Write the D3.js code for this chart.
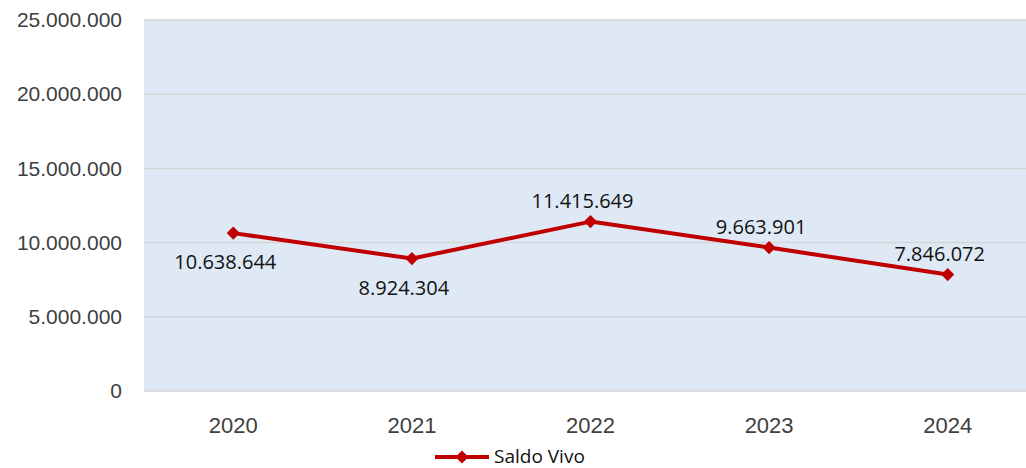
<!DOCTYPE html>
<html>
<head>
<meta charset="utf-8">
<script src="https://cdn.jsdelivr.net/npm/d3@7"></script>
<style>
  body { margin: 0; background: #fff; }
  svg { display: block; font-family: "Open Sans", "Noto Sans", sans-serif; }
</style>
</head>
<body>
<div id="chart"></div>
<script>
const years = ["2020", "2021", "2022", "2023", "2024"];
const saldoVivo = [10638644, 8924304, 11415649, 9663901, 7846072];
const yTicks = [0, 5000000, 10000000, 15000000, 20000000, 25000000];
// label above (1) or below (-1) the point
const labelSide = [-1, -1, 1, 1, 1];

const width = 1026, height = 468;
const plot = { left: 144, right: 1037, top: 20, bottom: 391 };

const fmt = v => d3.format(",")(v).replace(/,/g, ".");

const svg = d3.select("#chart")
    .append("svg")
    .attr("width", width)
    .attr("height", height);

const x = d3.scaleBand()
    .domain(years)
    .range([plot.left, plot.right]);

const y = d3.scaleLinear()
    .domain([0, 25000000])
    .range([plot.bottom, plot.top]);

// plot background
svg.append("rect")
    .attr("x", plot.left)
    .attr("y", plot.top)
    .attr("width", plot.right - plot.left)
    .attr("height", plot.bottom - plot.top)
    .attr("fill", "#dee9f5");

// gridlines
svg.append("g")
    .selectAll("line")
    .data(yTicks)
    .enter()
    .append("line")
    .attr("x1", plot.left)
    .attr("x2", plot.right)
    .attr("y1", d => y(d))
    .attr("y2", d => y(d))
    .attr("stroke", "#d6d6d6")
    .attr("stroke-width", 1.5);

// Y axis
const yAxis = svg.append("g")
    .attr("transform", `translate(${plot.left}, 0)`)
    .call(d3.axisLeft(y).tickValues(yTicks).tickFormat(fmt).tickSize(0).tickPadding(22));
yAxis.select(".domain").remove();
yAxis.selectAll("text")
    .attr("fill", "#404040")
    .style("font-size", "21px");

// X axis
const xAxis = svg.append("g")
    .attr("transform", `translate(0, ${plot.bottom})`)
    .call(d3.axisBottom(x).tickSize(0).tickPadding(26));
xAxis.select(".domain").remove();
xAxis.selectAll("text")
    .attr("fill", "#404040")
    .style("font-size", "22px");

// line
const line = d3.line()
    .x((d, i) => x(years[i]) + x.bandwidth() / 2)
    .y(d => y(d));

svg.append("path")
    .datum(saldoVivo)
    .attr("d", line)
    .attr("fill", "none")
    .attr("stroke", "#c00000")
    .attr("stroke-width", 4)
    .attr("stroke-linejoin", "round");

const diamond = d3.symbol().type(d3.symbolDiamond2).size(110);

svg.append("g")
    .selectAll("path")
    .data(saldoVivo)
    .enter()
    .append("path")
    .attr("d", diamond)
    .attr("transform", (d, i) => `translate(${x(years[i]) + x.bandwidth() / 2}, ${y(d)})`)
    .attr("fill", "#c00000");

// data labels
svg.append("g")
    .selectAll("text")
    .data(saldoVivo)
    .enter()
    .append("text")
    .attr("x", (d, i) => x(years[i]) + x.bandwidth() / 2 - 8)
    .attr("y", (d, i) => y(d) + (labelSide[i] > 0 ? -14 : 36))
    .attr("text-anchor", "middle")
    .attr("fill", "#111")
    .style("font-size", "20px")
    .text(d => fmt(d));

// legend
const legend = svg.append("g").attr("transform", "translate(435, 457)");
legend.append("line")
    .attr("x1", 0).attr("x2", 54)
    .attr("y1", 0).attr("y2", 0)
    .attr("stroke", "#c00000")
    .attr("stroke-width", 4);
legend.append("path")
    .attr("d", diamond)
    .attr("transform", "translate(27, 0)")
    .attr("fill", "#c00000");
legend.append("text")
    .attr("x", 59)
    .attr("y", 6)
    .attr("fill", "#111")
    .style("font-size", "19px")
    .text("Saldo Vivo");
</script>
</body>
</html>
